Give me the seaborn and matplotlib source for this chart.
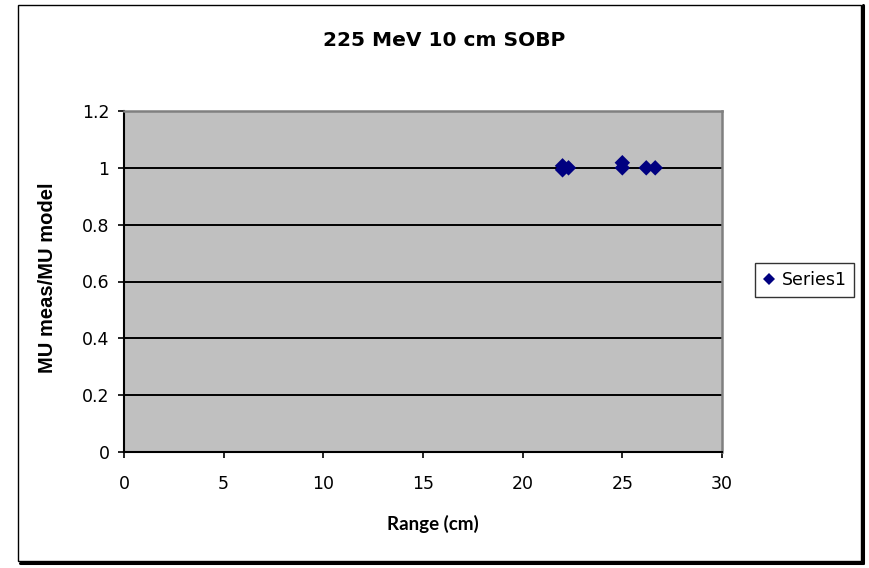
import matplotlib
matplotlib.use("Agg")
import matplotlib.pyplot as plt
from matplotlib.patches import Rectangle
from matplotlib.lines import Line2D
import seaborn as sns
import pandas as pd

# Measured ratio of monitor units vs. range
range_cm = [22.0, 22.0, 22.3, 25.0, 25.0, 26.2, 26.65]
mu_ratio = [1.007, 0.993, 1.0, 1.0, 1.018, 1.0, 1.0]
series_name = "Series1"
x_ticks = [0, 5, 10, 15, 20, 25, 30]
y_ticks = [0, 0.2, 0.4, 0.6, 0.8, 1.0, 1.2]
y_tick_labels = ["0", "0.2", "0.4", "0.6", "0.8", "1", "1.2"]

df = pd.DataFrame({"Range (cm)": range_cm, "ratio": mu_ratio,
                   "series": [series_name] * len(range_cm)})

sns.set_theme(style="white")
plt.rcParams["font.family"] = ["DejaVu Sans"]
plt.rcParams["text.color"] = "black"
plt.rcParams["axes.labelcolor"] = "black"
plt.rcParams["xtick.color"] = "black"
plt.rcParams["ytick.color"] = "black"

W, H = 869, 568
fig = plt.figure(figsize=(W / 100, H / 100), dpi=100)
fig.patch.set_facecolor("white")

ax = fig.add_axes([124 / W, 1 - 452 / H, (722 - 124) / W, (452 - 111) / H])
ax.set_facecolor("#C0C0C0")

# horizontal gridlines
for yv in y_ticks[1:-1]:
    ax.axhline(yv, color="black", lw=1.4, zorder=1)

sns.scatterplot(data=df, x="Range (cm)", y="ratio", hue="series",
                palette=["#000080"], marker="D", s=62, linewidth=0,
                ax=ax, zorder=3, legend=False)

ax.set_xlim(0, 30)
ax.set_ylim(0, 1.2)
ax.set_xticks(x_ticks)
ax.set_xticklabels([str(t) for t in x_ticks])
ax.set_yticks(y_ticks)
ax.set_yticklabels(y_tick_labels)
ax.tick_params(axis="both", which="major", direction="out", length=4.5,
               width=1.2, color="black", labelsize=12.5, labelcolor="black",
               left=True, bottom=True)
ax.tick_params(axis="y", pad=6)
ax.tick_params(axis="x", pad=12)
for lbl in ax.get_xticklabels() + ax.get_yticklabels():
    lbl.set_family(["DejaVu Sans"])

for side in ("left", "bottom"):
    ax.spines[side].set_color("black")
    ax.spines[side].set_linewidth(1.5)
for side in ("top", "right"):
    ax.spines[side].set_color("#808080")
    ax.spines[side].set_linewidth(1.8)

ax.set_xlabel("Range (cm)", fontsize=13.5, fontweight="bold", color="black",
              family=["Lato", "DejaVu Sans"])
ax.xaxis.set_label_coords((433 - 124) / 598, -(515 - 452) / 341)
ax.set_ylabel("MU meas/MU model", fontsize=14.5, fontweight="bold",
              color="black", family=["Liberation Sans", "DejaVu Sans"])
ax.yaxis.set_label_coords((57 - 124) / 598, (452 - 278) / 341)

fig.text(444 / W, 1 - 40 / H, "225 MeV 10 cm SOBP", ha="center", va="center",
         fontsize=14.5, fontweight="bold", color="black",
         family=["DejaVu Sans"])

handle = Line2D([], [], marker="D", color="#000080", linestyle="none",
                markersize=6.5, markeredgewidth=0)
leg = fig.legend([handle], [series_name], loc="center",
                 bbox_to_anchor=(804.5 / W, 1 - 280 / H),
                 bbox_transform=fig.transFigure,
                 prop={"family": ["DejaVu Sans"], "size": 12.5},
                 frameon=True, fancybox=False, shadow=False,
                 handlelength=0.8, handletextpad=0.3, borderpad=0.45,
                 borderaxespad=0)
leg.get_frame().set_edgecolor("black")
leg.get_frame().set_linewidth(1.0)
for t in leg.get_texts():
    t.set_color("black")

# chart-area border with a drop shadow on the right and bottom
x0, x1 = 18 / W, 861 / W
y0, y1 = 1 - 561 / H, 1 - 5 / H
fig.add_artist(Line2D([x1 + 2 / W, x1 + 2 / W], [y0 - 2 / H, y1 + 0 / H],
                      color="black", lw=2.2, transform=fig.transFigure))
fig.add_artist(Line2D([x0 + 2 / W, x1 + 2 / W], [y0 - 2 / H, y0 - 2 / H],
                      color="black", lw=2.2, transform=fig.transFigure))
fig.add_artist(Rectangle((x0, y0), x1 - x0, y1 - y0, transform=fig.transFigure,
                         fill=False, edgecolor="black", lw=1.0))

fig.savefig("out.png", dpi=100, facecolor="white")
